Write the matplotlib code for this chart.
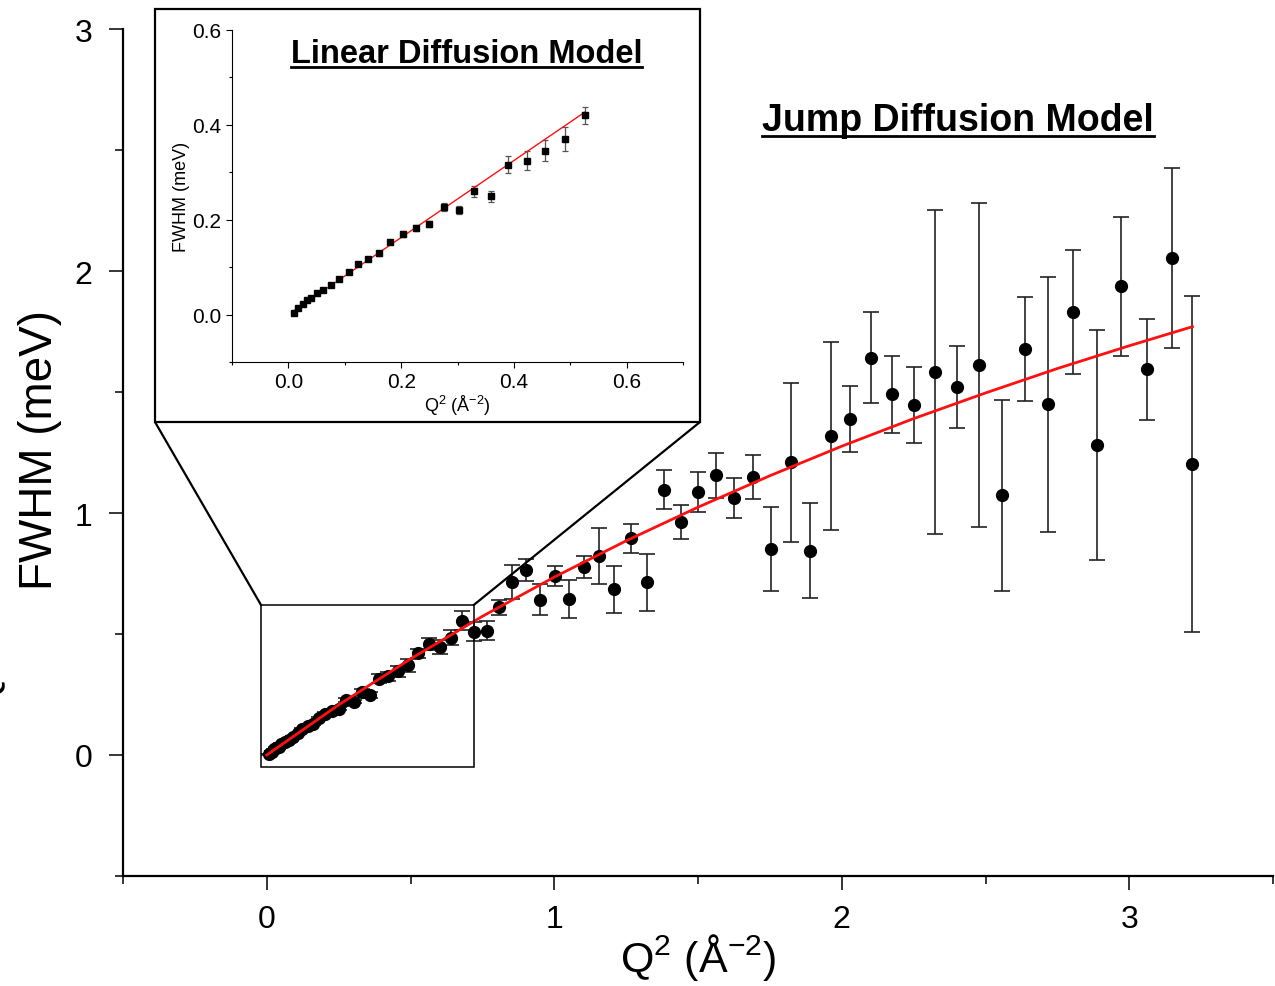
import matplotlib
matplotlib.use("Agg")
import matplotlib.pyplot as plt
from matplotlib.patches import Rectangle, ConnectionPatch
from matplotlib.lines import Line2D
from matplotlib.ticker import MultipleLocator

plt.rcParams['font.family'] = ['Liberation Sans', 'DejaVu Sans']
plt.rcParams['mathtext.fontset'] = 'custom'
plt.rcParams['mathtext.rm'] = 'Liberation Sans'
plt.rcParams['mathtext.it'] = 'Liberation Sans:italic'
plt.rcParams['mathtext.bf'] = 'Liberation Sans:bold'

# low-Q data (shown in the inset and in the main panel)
q2_lin = [0.0095, 0.0177, 0.0253, 0.033, 0.041, 0.0507, 0.062, 0.076, 0.0906,
          0.1077, 0.1236, 0.142, 0.160, 0.1806, 0.2028, 0.226, 0.250, 0.276,
          0.303, 0.330, 0.360, 0.390, 0.423, 0.455, 0.490, 0.526]
fwhm_lin = [0.0035, 0.014, 0.023, 0.030, 0.035, 0.046, 0.0526, 0.063, 0.0757,
            0.0897, 0.106, 0.118, 0.129, 0.153, 0.170, 0.182, 0.191, 0.227,
            0.221, 0.260, 0.2495, 0.316, 0.3245, 0.3456, 0.370, 0.4205]
err_lin = [0.002, 0.002, 0.002, 0.002, 0.002, 0.003, 0.003, 0.003, 0.003,
           0.003, 0.004, 0.004, 0.005, 0.005, 0.006, 0.006, 0.007, 0.008,
           0.008, 0.012, 0.012, 0.018, 0.020, 0.022, 0.025, 0.018]

# higher-Q data (main panel only)
q2_high = [0.563, 0.604, 0.642, 0.680, 0.722, 0.766, 0.809, 0.854, 0.903, 0.949,
           1.001, 1.051, 1.102, 1.155, 1.209, 1.266, 1.323, 1.381, 1.440, 1.501,
           1.564, 1.626, 1.691, 1.755, 1.823, 1.891, 1.961, 2.030, 2.102, 2.176,
           2.250, 2.325, 2.400, 2.479, 2.558, 2.639, 2.719, 2.803, 2.888, 2.973,
           3.060, 3.148, 3.218]
fwhm_high = [0.460, 0.447, 0.485, 0.555, 0.510, 0.514, 0.610, 0.714, 0.766, 0.642,
             0.739, 0.645, 0.776, 0.822, 0.684, 0.896, 0.714, 1.097, 0.963, 1.087,
             1.156, 1.062, 1.149, 0.850, 1.209, 0.845, 1.318, 1.388, 1.642, 1.490,
             1.445, 1.584, 1.522, 1.612, 1.073, 1.678, 1.449, 1.830, 1.281, 1.937,
             1.594, 2.054, 1.202]
err_high = [0.025, 0.030, 0.030, 0.040, 0.040, 0.040, 0.030, 0.070, 0.045, 0.064,
            0.040, 0.078, 0.045, 0.117, 0.097, 0.060, 0.118, 0.081, 0.071, 0.082,
            0.094, 0.083, 0.090, 0.173, 0.330, 0.196, 0.390, 0.137, 0.187, 0.159,
            0.157, 0.669, 0.170, 0.670, 0.394, 0.215, 0.528, 0.257, 0.475, 0.287,
            0.209, 0.371, 0.694]

# fit curves
jump_fit_q2 = [0, 0.25, 0.5, 0.75, 1.0, 1.25, 1.5, 1.75, 2.0, 2.25, 2.5, 2.75, 3.0, 3.22]
jump_fit_y = [0, 0.207, 0.397, 0.573, 0.735, 0.885, 1.024, 1.154, 1.276, 1.390,
              1.496, 1.597, 1.691, 1.770]
lin_fit_q2 = [0.006, 0.526]
lin_fit_y = [0.005, 0.427]

W, H = 1275, 987
fig = plt.figure(figsize=(W / 100, H / 100), dpi=100)

# ---- main panel ----
ax = fig.add_axes([123 / W, 1 - 877 / H, 1150 / W, 847 / H])
ax.spines['top'].set_visible(False)
ax.spines['right'].set_visible(False)
for s in ('left', 'bottom'):
    ax.spines[s].set_linewidth(1.6)
ax.set_xlim(-0.5, 3.5)
ax.set_ylim(-0.5, 3)
ax.xaxis.set_major_locator(MultipleLocator(1))
ax.xaxis.set_minor_locator(MultipleLocator(0.5))
ax.yaxis.set_major_locator(MultipleLocator(1))
ax.yaxis.set_minor_locator(MultipleLocator(0.5))
ax.tick_params(which='major', direction='out', length=10, width=1.1, labelsize=23)
ax.tick_params(which='minor', direction='out', length=6, width=1.1)
ax.tick_params(axis='y', pad=12)
ax.tick_params(axis='x', pad=10)

ax.errorbar(q2_lin + q2_high, fwhm_lin + fwhm_high, yerr=err_lin + err_high,
            fmt='o', color='black', ms=8.5, ecolor='#222222', elinewidth=1.2,
            capsize=6, capthick=1.2, zorder=2)
ax.plot(jump_fit_q2, jump_fit_y, color='#ff1010', lw=2.0, zorder=3)

ax.text(0.726, 0.893, 'Jump Diffusion Model', transform=ax.transAxes,
        ha='center', va='center', fontsize=27, fontweight='bold')

# zoom box
ax.add_patch(Rectangle((-0.02, -0.05), 0.74, 0.67, fill=False,
                       edgecolor='black', lw=1.1, zorder=4))

fig.text(40 / W, 1 - 450 / H, 'FWHM (meV)', rotation=90, ha='center',
         va='center', fontsize=33)
fig.text(698 / W, 1 - 958 / H, 'Q$^{2}$ (Å$^{-2}$)', ha='center', va='center',
         fontsize=31)
# the clipped label fragment at the left edge of the original figure
fig.text(-0.012, 1 - 690 / H, 'Q', rotation=90, ha='center', va='center',
         fontsize=31)

# ---- inset ----
fx0, fy0, fx1, fy1 = 155 / W, 1 - 423 / H, 700 / W, 1 - 10 / H
fig.add_artist(Rectangle((fx0, fy0), fx1 - fx0, fy1 - fy0, fill=False,
                         edgecolor='black', lw=1.6,
                         transform=fig.transFigure))
for xa, xb in ((fx0, -0.02), (fx1, 0.72)):
    fig.add_artist(ConnectionPatch(xyA=(xa, fy0), coordsA='figure fraction',
                                   xyB=(xb, 0.62), coordsB=ax.transData,
                                   color='black', lw=1.6))

ins = fig.add_axes([232 / W, 1 - 363 / H, 451 / W, 332 / H])
ins.spines['top'].set_visible(False)
ins.spines['right'].set_visible(False)
ins.set_xlim(-0.1, 0.7)
ins.set_ylim(-0.1, 0.6)
ins.xaxis.set_major_locator(MultipleLocator(0.2))
ins.xaxis.set_minor_locator(MultipleLocator(0.1))
ins.yaxis.set_major_locator(MultipleLocator(0.2))
ins.yaxis.set_minor_locator(MultipleLocator(0.1))
ins.tick_params(which='major', direction='out', length=4, width=0.8, labelsize=15)
ins.tick_params(which='minor', direction='out', length=2.5, width=0.8)
ins.xaxis.set_major_formatter('{x:.1f}')
ins.yaxis.set_major_formatter('{x:.1f}')

ins.errorbar(q2_lin, fwhm_lin, yerr=err_lin, fmt='s', color='black', ms=5,
             ecolor='#555555', elinewidth=0.9, capsize=2.5, capthick=0.9)
ins.plot(lin_fit_q2, lin_fit_y, color='#ff1010', lw=1.0)
ins.set_xlabel('Q$^{2}$ (Å$^{-2}$)', fontsize=13, labelpad=1)
ins.set_ylabel('FWHM (meV)', fontsize=13, labelpad=2)
ins.text(0.52, 0.93, 'Linear Diffusion Model', transform=ins.transAxes,
         ha='center', va='center', fontsize=23.5, fontweight='bold')

# underline the bold titles
fig.canvas.draw()
inv = fig.transFigure.inverted()
for t in ax.texts + ins.texts:
    bb = t.get_window_extent()
    (x0, y0), (x1, _) = inv.transform([(bb.x0, bb.y0 + 2), (bb.x1, bb.y0)])
    fig.add_artist(Line2D([x0, x1], [y0, y0], color='black', lw=2.0,
                          transform=fig.transFigure))

fig.savefig('out.png', dpi=100)
